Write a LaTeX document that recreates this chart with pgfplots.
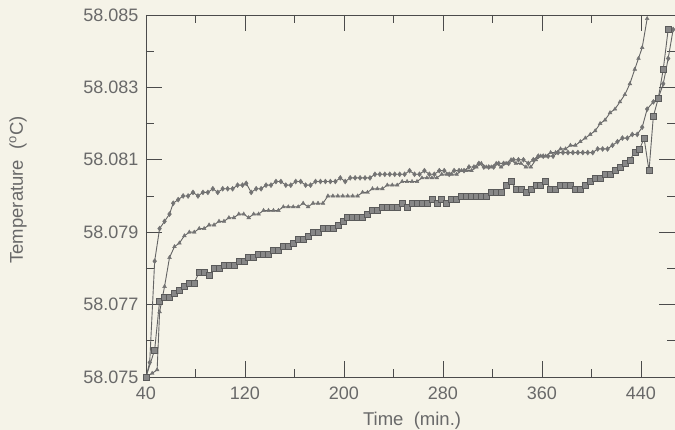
\documentclass[border=0pt]{standalone}
\usepackage{pgfplots}
\pgfplotsset{compat=1.18}
\usepackage{fontspec}
\setmainfont{Liberation Sans}
\definecolor{bg}{RGB}{245,243,232}
\definecolor{txt}{RGB}{105,105,105}
\definecolor{ax}{RGB}{75,75,75}
\definecolor{ln}{RGB}{100,100,100}
\definecolor{mk}{RGB}{115,115,115}
\definecolor{sqf}{RGB}{135,135,135}
\definecolor{sqd}{RGB}{90,90,90}
\def\stripfe#1.#2\relax{\edef\pgfmathresult{0.#2}}
\begin{document}
\begin{tikzpicture}
\fill[bg] (-146pt,-53pt) rectangle (529pt,377pt);
\path[use as bounding box] (-146pt,-53pt) rectangle (529pt,377pt);
\begin{axis}[
  scale only axis, width=529pt, height=362pt,
  at={(0pt,0pt)}, anchor=south west,
  xmin=40, xmax=467.5, ymin=58.075, ymax=58.085,
  y coord trafo/.code={\edef\mytmp{#1}\expandafter\stripfe\mytmp\relax},
  scaled y ticks=false, scaled x ticks=false,
  axis line style={ax, line width=0.9pt},
  tick align=inside,
  xtick={40,120,200,280,360,440},
  xticklabels={40,120,200,280,360,440},
  minor xtick={80,160,240,320,400},
  ytick={58.075,58.077,58.079,58.081,58.083,58.085},
  yticklabels={58.075,58.077,58.079,58.081,58.083,58.085},
  minor ytick={58.076,58.078,58.080,58.082,58.084},
  minor tick num=0,
  major tick length=16pt, minor tick length=8pt,
  every tick/.style={ax, line width=0.8pt},
  tick label style={font=\fontsize{18}{21}\selectfont, text=txt},
  yticklabel style={xshift=-4pt},
  xticklabel style={yshift=-6pt},
  xlabel={Time\ \ (min.)},
  ylabel={Temperature\ \ (\textsuperscript{o}C)},
  xlabel style={font=\fontsize{18.5}{22}\selectfont, text=txt, at={(axis description cs:0.503,-0.121)}, anchor=center},
  ylabel style={font=\fontsize{18.5}{22}\selectfont, text=txt, at={(axis description cs:-0.242,0.517)}, rotate=0, anchor=center},
  clip=false,
]
% diamonds
\addplot[ln, line width=0.9pt, mark=diamond*, mark size=2.5pt, mark options={fill=mk, draw=mk, line width=0.4pt}] table {
40 58.0750
43 58.0754
47 58.0782
51 58.0791
55 58.0793
59 58.0795
62 58.0798
66 58.0799
70 58.0800
74 58.0800
78 58.0801
82 58.0800
86 58.0801
90 58.0801
94 58.0802
98 58.0801
102 58.0802
106 58.0802
110 58.0802
114 58.0803
118 58.0803
121 58.08035
125 58.0801
129 58.0802
133 58.0802
137 58.0803
141 58.0803
145 58.0804
149 58.0804
153 58.0803
157 58.0803
161 58.0804
165 58.0804
169 58.0803
173 58.0803
177 58.0804
181 58.0804
185 58.0804
189 58.0804
193 58.0804
197 58.0805
201 58.0804
205 58.0805
209 58.0805
213 58.0805
217 58.0805
221 58.0805
225 58.0806
229 58.0806
233 58.0806
237 58.0806
241 58.0806
245 58.0806
249 58.0806
253 58.0807
257 58.0806
261 58.0806
265 58.0807
269 58.0806
273 58.0806
277 58.0807
281 58.0807
285 58.0806
289 58.0807
293 58.0807
297 58.0807
301 58.0808
305 58.0808
309 58.0809
313 58.0808
317 58.0808
321 58.0808
325 58.0809
329 58.0809
333 58.0809
337 58.0810
341 58.0810
345 58.0810
349 58.0809
353 58.0810
357 58.0811
361 58.0811
365 58.0811
369 58.0811
373 58.0812
377 58.0812
381 58.0812
385 58.0812
389 58.0812
393 58.0812
397 58.0812
401 58.0812
405 58.0813
409 58.0813
413 58.0813
417 58.0814
421 58.0815
425 58.0816
429 58.0816
433 58.0817
437 58.0817
441 58.0819
445 58.0824
450 58.0826
454 58.0827
458 58.0831
462 58.0838
466 58.0846
};
% triangles
\addplot[ln, line width=0.9pt, mark=triangle*, mark size=2.2pt, mark options={fill=mk, draw=mk, line width=0.4pt}] table {
40 58.0750
45 58.0751
49 58.0752
51 58.0768
55 58.0775
59 58.0783
63 58.0786
67 58.0787
71 58.0789
75 58.0790
79 58.0790
83 58.0791
87 58.0791
91 58.0792
95 58.0792
99 58.0793
103 58.0793
107 58.0794
111 58.0794
115 58.0795
119 58.0795
123 58.0794
127 58.0795
131 58.0795
135 58.0796
139 58.0796
143 58.0796
147 58.0796
151 58.0797
155 58.0797
159 58.0797
163 58.0797
167 58.0798
171 58.0797
175 58.0798
179 58.0798
183 58.0798
187 58.0800
191 58.0800
195 58.0800
199 58.0800
203 58.0800
207 58.0800
211 58.0800
215 58.0801
219 58.0801
223 58.0802
227 58.0802
231 58.0802
235 58.0803
239 58.0803
243 58.0803
247 58.0804
251 58.0804
255 58.0804
259 58.0804
263 58.0805
267 58.0805
271 58.0805
275 58.0805
279 58.0806
283 58.0806
287 58.0806
291 58.0806
295 58.0807
299 58.0807
303 58.0807
307 58.0808
311 58.0809
315 58.0808
319 58.0808
323 58.0809
327 58.0808
331 58.0809
335 58.0810
339 58.0809
343 58.0809
347 58.0808
351 58.0808
355 58.0810
359 58.0811
363 58.0811
367 58.0812
371 58.0812
375 58.0813
379 58.0813
383 58.0814
387 58.0814
391 58.0815
395 58.0816
399 58.0817
403 58.0818
407 58.0820
411 58.0821
415 58.0823
419 58.0824
423 58.0826
427 58.0828
431 58.0831
435 58.0835
438 58.0838
441 58.0841
445 58.0849
};
% squares
\addplot[ln, line width=0.9pt, mark=square*, mark size=3pt, mark options={fill=sqf, draw=sqd, line width=0.5pt}] table {
40 58.0750
47 58.07575
51 58.0771
55 58.0772
59 58.0772
63 58.0773
67 58.0774
71 58.0775
75 58.0776
79 58.0776
83 58.0779
87 58.0779
91 58.0778
95 58.0780
99 58.0780
103 58.0781
107 58.0781
111 58.0781
115 58.0782
119 58.0782
123 58.0783
127 58.0783
131 58.0784
135 58.0784
139 58.0784
143 58.0785
147 58.0785
151 58.0786
155 58.0786
159 58.0787
163 58.0788
167 58.0788
171 58.0789
175 58.0790
179 58.0790
183 58.0791
187 58.0791
191 58.0791
195 58.0792
199 58.0793
203 58.0794
207 58.0794
211 58.0794
215 58.0794
219 58.0795
223 58.0796
227 58.0796
231 58.0797
235 58.0797
239 58.0797
243 58.0797
247 58.0798
251 58.0797
255 58.0798
259 58.0798
263 58.0798
267 58.0798
271 58.0799
275 58.0798
279 58.0799
283 58.0798
287 58.0799
291 58.0799
295 58.0800
299 58.0800
303 58.0800
307 58.0800
311 58.0800
315 58.0800
319 58.0801
323 58.0801
327 58.0801
331 58.0803
335 58.0804
339 58.0802
343 58.0802
347 58.0801
351 58.0802
355 58.0803
359 58.0803
363 58.0804
367 58.0802
371 58.0802
375 58.0803
379 58.0803
383 58.0803
387 58.0802
391 58.0802
395 58.0803
399 58.0804
403 58.0805
407 58.0805
411 58.0806
415 58.0806
419 58.0807
423 58.0808
427 58.0809
431 58.0810
435 58.0812
439 58.0813
442.5 58.0816
446.5 58.0807
450 58.0822
454 58.0827
458 58.0835
462 58.0846
};
\end{axis}
\end{tikzpicture}
\end{document}
